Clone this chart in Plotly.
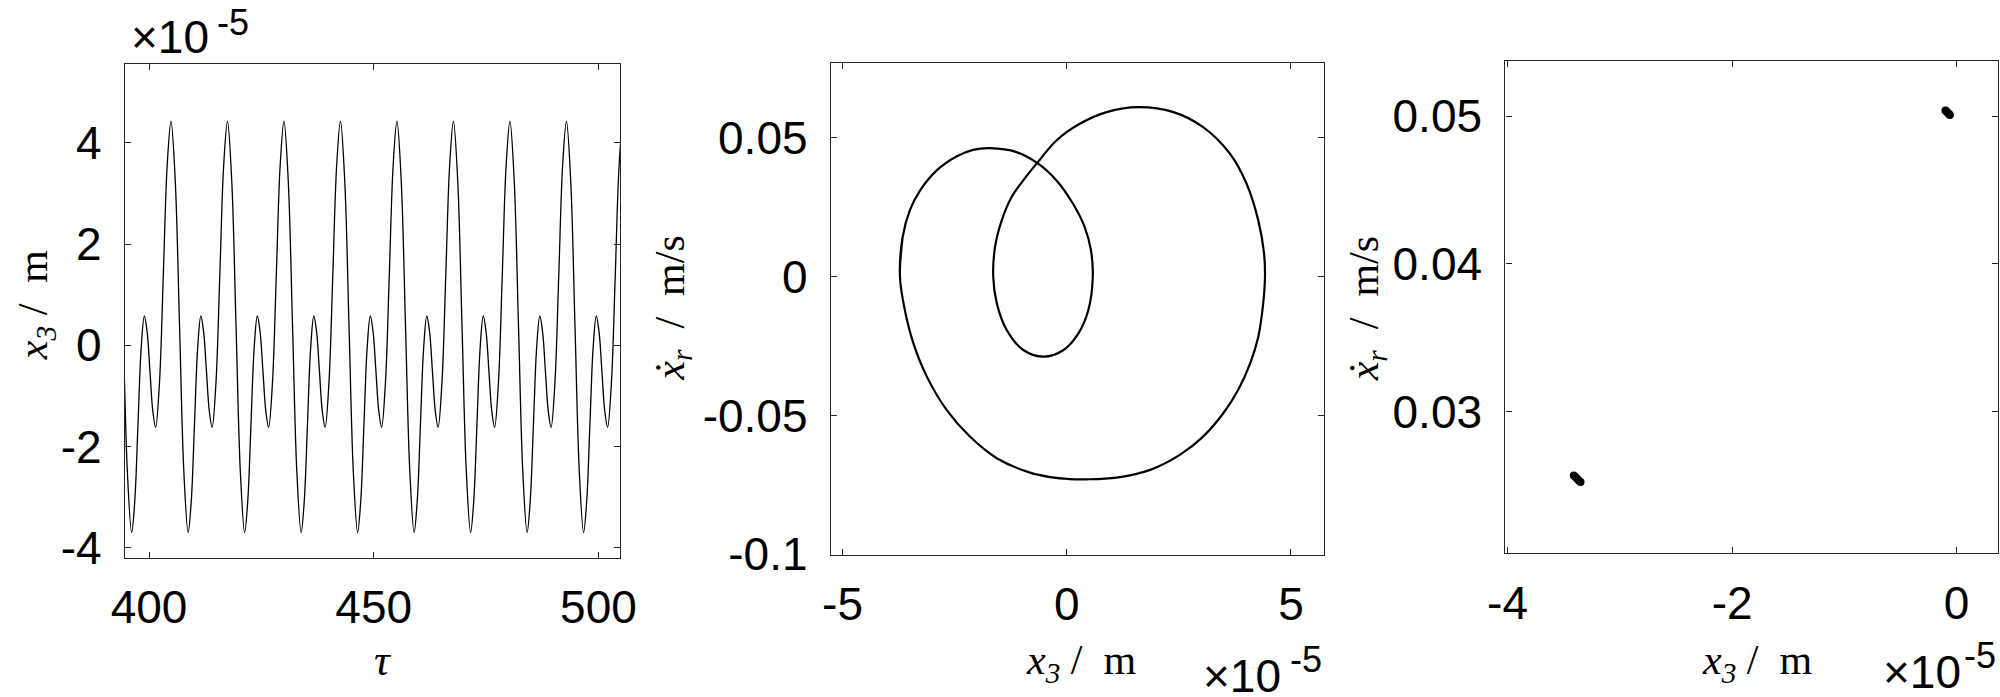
import plotly.graph_objects as go

# ---- panel 1: x3 time history (x3 in units of 1e-5 m) ----
tau = [
    391.47, 392.32, 393.28, 394.23, 395.19,
    396.14, 396.84, 397.55, 398.26, 398.96, 399.59, 400.22, 400.85, 401.48, 402.33, 403.19, 404.04, 404.89, 405.85, 406.80, 407.76,
    408.71, 409.41, 410.12, 410.83, 411.53, 412.16, 412.79, 413.42, 414.05, 414.90, 415.76, 416.61, 417.46, 418.42, 419.37, 420.33,
    421.28, 421.98, 422.69, 423.40, 424.10, 424.73, 425.36, 425.99, 426.62, 427.47, 428.33, 429.18, 430.03, 430.99, 431.94, 432.90,
    433.85, 434.55, 435.26, 435.97, 436.67, 437.30, 437.93, 438.56, 439.19, 440.04, 440.90, 441.75, 442.60, 443.56, 444.51, 445.47,
    446.42, 447.12, 447.83, 448.54, 449.24, 449.87, 450.50, 451.13, 451.76, 452.61, 453.47, 454.32, 455.17, 456.13, 457.08, 458.04,
    458.99, 459.69, 460.40, 461.11, 461.81, 462.44, 463.07, 463.70, 464.33, 465.18, 466.04, 466.89, 467.74, 468.70, 469.65, 470.61,
    471.56, 472.26, 472.97, 473.68, 474.38, 475.01, 475.64, 476.27, 476.90, 477.75, 478.61, 479.46, 480.31, 481.27, 482.22, 483.18,
    484.13, 484.83, 485.54, 486.25, 486.95, 487.58, 488.21, 488.84, 489.47, 490.32, 491.18, 492.03, 492.88, 493.84, 494.79, 495.75,
    496.70, 497.40, 498.11, 498.82, 499.52, 500.15, 500.78, 501.41, 502.04, 502.89, 503.75, 504.60, 505.45, 506.41,
]
x3_time = [
    3.55, 4.43, 3.24, 0.37, -2.51,
    -3.70, -3.07, -1.56, -0.05, 0.58, 0.26, -0.52, -1.30, -1.62, -0.74, 1.40, 3.55, 4.43, 3.24, 0.37, -2.51,
    -3.70, -3.07, -1.56, -0.05, 0.58, 0.26, -0.52, -1.30, -1.62, -0.74, 1.40, 3.55, 4.43, 3.24, 0.37, -2.51,
    -3.70, -3.07, -1.56, -0.05, 0.58, 0.26, -0.52, -1.30, -1.62, -0.74, 1.40, 3.55, 4.43, 3.24, 0.37, -2.51,
    -3.70, -3.07, -1.56, -0.05, 0.58, 0.26, -0.52, -1.30, -1.62, -0.74, 1.40, 3.55, 4.43, 3.24, 0.37, -2.51,
    -3.70, -3.07, -1.56, -0.05, 0.58, 0.26, -0.52, -1.30, -1.62, -0.74, 1.40, 3.55, 4.43, 3.24, 0.37, -2.51,
    -3.70, -3.07, -1.56, -0.05, 0.58, 0.26, -0.52, -1.30, -1.62, -0.74, 1.40, 3.55, 4.43, 3.24, 0.37, -2.51,
    -3.70, -3.07, -1.56, -0.05, 0.58, 0.26, -0.52, -1.30, -1.62, -0.74, 1.40, 3.55, 4.43, 3.24, 0.37, -2.51,
    -3.70, -3.07, -1.56, -0.05, 0.58, 0.26, -0.52, -1.30, -1.62, -0.74, 1.40, 3.55, 4.43, 3.24, 0.37, -2.51,
    -3.70, -3.07, -1.56, -0.05, 0.58, 0.26, -0.52, -1.30, -1.62, -0.74, 1.40, 3.55, 4.43, 3.24,
]

# ---- panel 2: phase portrait, x3 (1e-5 m) vs xr_dot (m/s), traced clockwise ----
x3_phase = [
    -3.61,
    -3.72, -3.66, -3.50, -3.27, -2.90, -2.46, -2.09, -1.71,
    -1.12, -0.66, -0.23, 0.14, 0.40, 0.54, 0.58,
    0.48, 0.26, -0.08, -0.52, -0.97, -1.34, -1.56, -1.64,
    -1.60, -1.45, -1.23, -0.97, -0.66, -0.23, 0.29, 0.89, 1.60,
    2.38, 3.04, 3.64, 4.01, 4.27, 4.40, 4.42,
    4.38, 4.27, 4.09, 3.82, 3.49, 3.04, 2.52, 1.86, 1.11, 0.44, 0.07, -0.37, -0.82,
    -1.56, -2.16, -2.68, -3.12, -3.42, -3.61,
    -3.72, -3.66,
]
xr_dot_phase = [
    -0.0121,
    0.0000, 0.0143, 0.0239, 0.0311, 0.0383, 0.0433, 0.0457, 0.0463,
    0.0449, 0.0410, 0.0347, 0.0263, 0.0179, 0.0095, 0.0000,
    -0.0121, -0.0204, -0.0265, -0.0288, -0.0264, -0.0192, -0.0096, 0.0000,
    0.0107, 0.0203, 0.0287, 0.0347, 0.0410, 0.0491, 0.0551, 0.0593, 0.0611,
    0.0593, 0.0539, 0.0443, 0.0335, 0.0203, 0.0083, 0.0000,
    -0.0096, -0.0217, -0.0312, -0.0408, -0.0492, -0.0576, -0.0642, -0.0696, -0.0724, -0.0730, -0.0729, -0.0722, -0.0706,
    -0.0654, -0.0576, -0.0480, -0.0360, -0.0240, -0.0121,
    0.0000, 0.0143,
]

# ---- panel 3: Poincare section points ----
x3_poinc = [-3.41, -3.395, -3.38, -3.365, -3.35, -0.10, -0.09, -0.08, -0.07, -0.06]
xr_dot_poinc = [0.02567, 0.02556, 0.02545, 0.02533, 0.02522, 0.05040, 0.05033, 0.05025, 0.05018, 0.05010]

SANS = "Arial, Liberation Sans, sans-serif"
SERIF = "Times New Roman, Liberation Serif, serif"
TICK_FONT = dict(family=SANS, size=46, color="black")
AXCOL = "#262626"

fig = go.Figure()

fig.add_trace(go.Scatter(x=tau, y=x3_time, mode="lines", line=dict(color="black", width=1.3, shape="spline"),
                         xaxis="x", yaxis="y", showlegend=False))
fig.add_trace(go.Scatter(x=x3_phase, y=xr_dot_phase, mode="lines", line=dict(color="black", width=2.2, shape="spline"),
                         xaxis="x2", yaxis="y2", showlegend=False))
fig.add_trace(go.Scatter(x=x3_poinc, y=xr_dot_poinc, mode="markers", marker=dict(color="black", size=8),
                         xaxis="x3", yaxis="y3", showlegend=False))


def ax(domain, rng, vals, text, anchor, standoff):
    return dict(domain=domain, range=rng, anchor=anchor, tickvals=vals, ticktext=text, automargin=False,
                showline=True, mirror="ticks", linecolor=AXCOL, linewidth=1.3,
                ticks="inside", ticklen=6, tickwidth=1, tickcolor=AXCOL,
                showgrid=False, zeroline=False, tickfont=TICK_FONT, ticklabelstandoff=standoff)


fig.update_layout(
    width=2000, height=697, autosize=False,
    margin=dict(l=0, r=0, t=0, b=0, pad=0, autoexpand=False),
    paper_bgcolor="white", plot_bgcolor="white",
    xaxis=ax([0.0625, 0.31], [394.66, 504.8], [400, 450, 500], ["400", "450", "500"], "y", 9),
    yaxis=ax([0.1997, 0.9088], [-4.2, 5.57], [-4, -2, 0, 2, 4], ["-4", "-2", "0", "2", "4"], "x", 13),
    xaxis2=ax([0.41545, 0.6622], [-5.26, 5.745], [-5, 0, 5], ["-5", "0", "5"], "y2", 9),
    yaxis2=ax([0.2036, 0.9100], [-0.1003, 0.0771], [-0.1, -0.05, 0, 0.05], ["-0.1", "-0.05", "0", "0.05"], "x2", 13),
    xaxis3=ax([0.7527, 0.99915], [-4.019, 0.371], [-4, -2, 0], ["-4", "-2", "0"], "y3", 9),
    yaxis3=ax([0.2059, 0.9120], [0.02038, 0.05373], [0.03, 0.04, 0.05], ["0.03", "0.04", "0.05"], "x3", 13),
)

title_font = dict(family=SERIF, size=42, color="black")
big_font = dict(family=SANS, size=46, color="black")
exp_font = dict(family=SANS, size=36, color="black")
x3_label = "<i>x</i><sub><i>3</i></sub> /  m"
v_label = "<i>ẋ</i><sub><i>r</i></sub>  /  m/s"

annotations = [
    # x-axis titles
    dict(x=0.1915, y=0.0907, text="<i>τ</i>", font=dict(family=SERIF, size=44, color="black"), yanchor="top"),
    dict(x=0.5405, y=0.0895, text=x3_label, font=title_font, yanchor="top"),
    dict(x=0.8785, y=0.0895, text=x3_label, font=title_font, yanchor="top"),
    # y-axis titles
    dict(x=0.0038, y=0.563, text=x3_label, font=title_font, textangle=-90, xanchor="left"),
    dict(x=0.3223, y=0.558, text=v_label, font=title_font, textangle=-90, xanchor="left"),
    dict(x=0.6693, y=0.557, text=v_label, font=title_font, textangle=-90, xanchor="left"),
    # exponent multipliers
    dict(x=0.0645, y=0.987, text="×10", font=big_font, xanchor="left", yanchor="top"),
    dict(x=0.1075, y=1.0, text="-5", font=exp_font, xanchor="left", yanchor="top"),
    dict(x=0.6415, y=0.0697, text="×10", font=big_font, xanchor="right", yanchor="top"),
    dict(x=0.662, y=0.0855, text="-5", font=exp_font, xanchor="right", yanchor="top"),
    dict(x=0.9815, y=0.0765, text="×10", font=big_font, xanchor="right", yanchor="top"),
    dict(x=0.999, y=0.0912, text="-5", font=exp_font, xanchor="right", yanchor="top"),
]
for a in annotations:
    a.setdefault("xanchor", "center")
    a.setdefault("yanchor", "middle")
    fig.add_annotation(xref="paper", yref="paper", showarrow=False, **a)

fig.write_html("out.html", config={"displayModeBar": False, "responsive": False},
               post_script="document.body.style.margin='0px';")
